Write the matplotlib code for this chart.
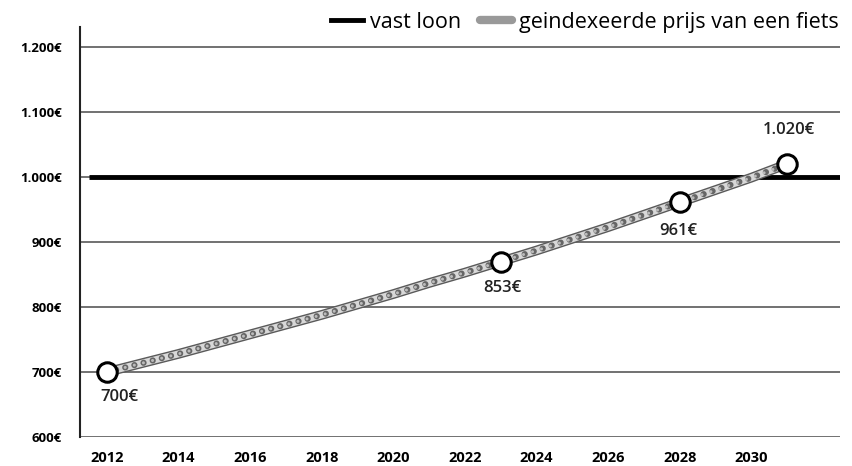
import matplotlib
matplotlib.use("Agg")
import matplotlib.pyplot as plt
from matplotlib.lines import Line2D

plt.rcParams['font.family'] = ['Open Sans', 'DejaVu Sans']

# geindexeerde prijs van een fiets, per jaar (2% per jaar)
years = [2012, 2013, 2014, 2015, 2016, 2017, 2018, 2019, 2020, 2021,
         2022, 2023, 2024, 2025, 2026, 2027, 2028, 2029, 2030, 2031]
bike_price = [700, 714, 728, 743, 758, 773, 788, 804, 820, 837,
              853, 870, 887, 905, 923, 942, 961, 980, 999, 1020]

# vast loon
wage_years = [2011.5, 2032.5]
wage = [1000, 1000]

# omcirkelde punten en hun labels
mark_years = [2012, 2023, 2028, 2031]
mark_values = [700, 870, 961, 1020]
mark_labels = ['700€', '853€', '961€', '1.020€']
label_offsets = [(0.35, -25), (0.05, -26), (-0.05, -29), (0.05, 34)]

y_ticks = [600, 700, 800, 900, 1000, 1100, 1200]
y_tick_labels = ['600€', '700€', '800€', '900€', '1.000€', '1.100€', '1.200€']
x_ticks = [2012, 2014, 2016, 2018, 2020, 2022, 2024, 2026, 2028, 2030]

fig = plt.figure(figsize=(8.52, 4.66), dpi=100)
ax = fig.add_axes([0.094, 0.062, 0.892, 0.879])

for yv in y_ticks:
    ax.axhline(yv, color='#4a4a4a', lw=1.1, zorder=1)

ax.plot(wage_years, wage, color='black', lw=3.5, solid_capstyle='butt', zorder=2)

# ketting
ax.plot(years, bike_price, color='#5a5a5a', lw=7, solid_capstyle='round', zorder=3)
ax.plot(years, bike_price, color='#d8d8d8', lw=5, solid_capstyle='round', zorder=4)
ax.plot(years, bike_price, color='#666666', lw=4.5, linestyle=(0, (0.01, 1.5)),
        dash_capstyle='round', zorder=5)
ax.plot(years, bike_price, color='#bbbbbb', lw=2.2, linestyle=(0, (0.01, 3.07)),
        dash_capstyle='round', zorder=6)

ax.plot(mark_years, mark_values, linestyle='none', marker='o', markersize=14,
        markerfacecolor='white', markeredgecolor='black', markeredgewidth=2.2, zorder=7)

for yr, val, txt, (dx, dy) in zip(mark_years, mark_values, mark_labels, label_offsets):
    ax.annotate(txt, (yr + dx, val), xytext=(0, dy), textcoords='offset pixels',
                ha='center', va='center', fontsize=12, fontweight='semibold', color='#222222')

ax.set_xlim(2011.25, 2032.48)
ax.set_ylim(600, 1230)
ax.set_yticks(y_ticks)
ax.set_yticklabels(y_tick_labels, fontsize=9.5, fontweight='bold')
ax.set_xticks(x_ticks)
ax.set_xticklabels([str(x) for x in x_ticks], fontsize=10.5, fontweight='bold')
ax.tick_params(axis='y', length=0, pad=13)
ax.tick_params(axis='x', length=0, pad=10)

for side in ['top', 'right', 'bottom']:
    ax.spines[side].set_visible(False)
ax.spines['left'].set_linewidth(1.5)
ax.spines['left'].set_color('#222222')

handles = [
    Line2D([], [], color='black', lw=3.5),
    Line2D([], [], color='#999999', lw=6, solid_capstyle='round'),
]
fig.legend(handles, ['vast loon', 'geindexeerde prijs van een fiets'], ncol=2,
           loc='center right', bbox_to_anchor=(0.997, 0.952), frameon=False,
           fontsize=15.5, handlelength=1.5, handletextpad=0.3, columnspacing=0.9,
           borderpad=0)

fig.savefig('out.png', dpi=100)
